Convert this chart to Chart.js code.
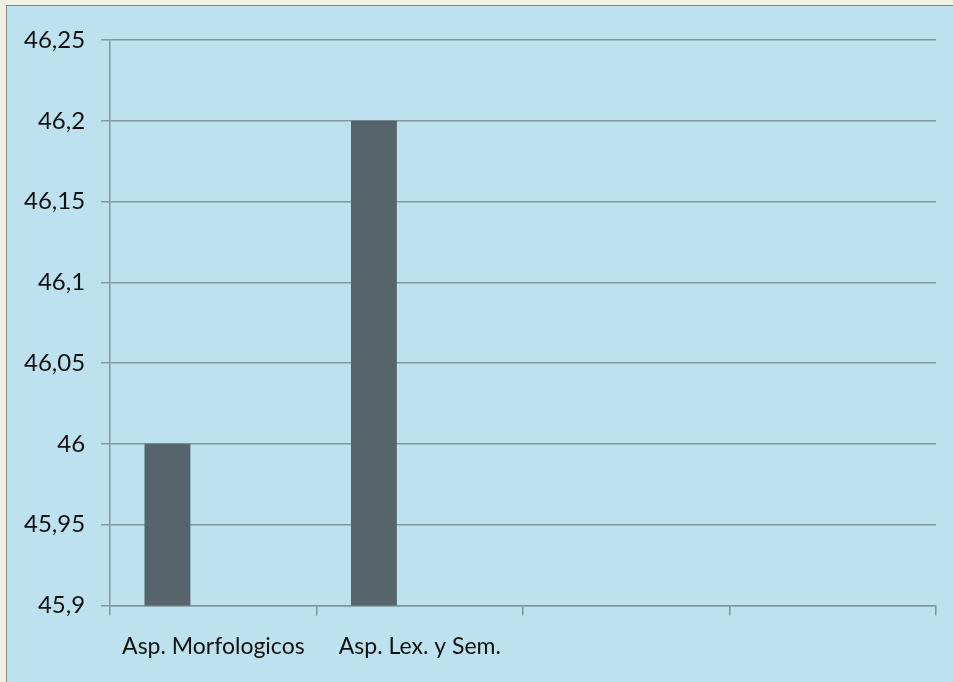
<!DOCTYPE html>
<html>
<head>
<meta charset="utf-8">
<script src="https://cdn.jsdelivr.net/npm/chart.js@4/dist/chart.umd.min.js"></script>
<style>
  html, body { margin: 0; padding: 0; background: #F1EEE4; overflow: hidden; }
  #marco { position: absolute; left: 6px; top: 5px; width: 960px; height: 700px;
           background: #BDE1EF; border: 1px solid #7E8A8A; }
  #cont { position: absolute; left: 0; top: 0; width: 953px; height: 682px; }
</style>
</head>
<body>
<div id="marco"></div>
<div id="cont"><canvas id="miGrafica"></canvas></div>
<script>
// datos del grafico
var categorias = ["Asp. Morfologicos", "Asp. Lex. y Sem.", "", ""]
var serie1 = [46, 46.2, null, null]
var serie2 = [null, null, null, null] // series vacias (dejan el hueco a la derecha de cada barra)
var serie3 = [null, null, null, null]
var yMin = 45.9
var yMax = 46.25
var yPaso = 0.05

var colorEje = "#7F98A2"
var colorBarra = "#56656B"

var series = [serie1, serie2, serie3]
var datasets = []
series.forEach(s => {
  datasets.push({
    data: s,
    backgroundColor: colorBarra,
    barPercentage: 1,
    categoryPercentage: 0.667
  })
});

new Chart("miGrafica", {
  type: "bar",
  data: {
    labels: categorias,
    datasets: datasets
  },
  options: {
    responsive: true,
    maintainAspectRatio: false,
    animation: false,
    layout: { padding: { left: 8, right: 17, top: 40, bottom: 5 } },
    plugins: { legend: { display: false }, tooltip: { enabled: false } },
    scales: {
      x: {
        grid: {
          offset: true,
          drawOnChartArea: false,
          drawTicks: true,
          tickLength: 10,
          color: colorEje,
          lineWidth: 1.5
        },
        border: { color: colorEje, width: 1.5 },
        ticks: {
          color: "#111",
          font: { family: "Lato", size: 23 },
          padding: 17,
          maxRotation: 0,
          autoSkip: false
        }
      },
      y: {
        min: yMin,
        max: yMax,
        grid: {
          color: colorEje,
          lineWidth: 1.5,
          tickLength: 9
        },
        border: { color: colorEje, width: 1.5 },
        ticks: {
          stepSize: yPaso,
          color: "#111",
          font: { family: "Lato", size: 24 },
          padding: 16,
          callback: function (v) { // coma decimal
            return (Math.round(v * 100) / 100).toString().replace(".", ",")
          }
        }
      }
    }
  }
});
</script>
</body>
</html>
